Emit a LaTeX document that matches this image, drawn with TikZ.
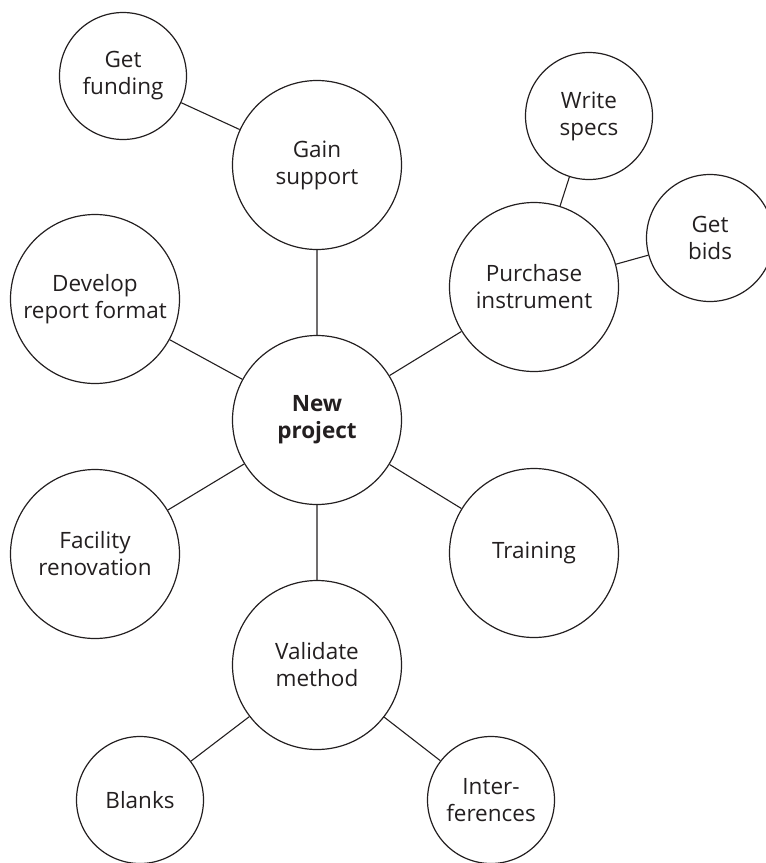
\documentclass[tikz,border=0pt]{standalone}
\usepackage{fontspec}
\setmainfont{Open Sans}
\definecolor{ink}{HTML}{231F20}
\begin{document}
\begin{tikzpicture}[x=1pt,y=-1pt,
  bubble/.style={circle,draw=ink,line width=1.2pt,inner sep=0pt,align=center,
    text=ink,font=\fontsize{22.5pt}{27pt}\selectfont},
  big/.style={bubble,minimum size=169pt},
  small/.style={bubble,minimum size=127pt},
  link/.style={draw=ink,line width=1.1pt}]
\useasboundingbox (0,0) rectangle (766,863);
\node[big] (np) at (317,420) {\bfseries New\\\bfseries project};
\node[big] (gs) at (317,165) {Gain\\support};
\node[small] (gf) at (123,76) {Get\\funding};
\node[big] (dr) at (95,299) {Develop\\report format};
\node[big] (pi) at (534,287) {Purchase\\instrument};
\node[small] (ws) at (589,116) {Write\\specs};
\node[small] (gb) at (710,238) {Get\\bids};
\node[big] (fr) at (95,554) {Facility\\renovation};
\node[big] (tr) at (534,553) {Training};
\node[big] (vm) at (317,665) {Validate\\method};
\node[small] (bl) at (140,800) {Blanks};
\node[small] (if) at (491,800) {Inter-\\ferences};
\path[link] (np) -- (gs) (gs) -- (gf) (np) -- (dr) (np) -- (pi)
  (pi) -- (ws) (pi) -- (gb) (np) -- (fr) (np) -- (tr) (np) -- (vm)
  (vm) -- (bl) (vm) -- (if);
\end{tikzpicture}
\end{document}
